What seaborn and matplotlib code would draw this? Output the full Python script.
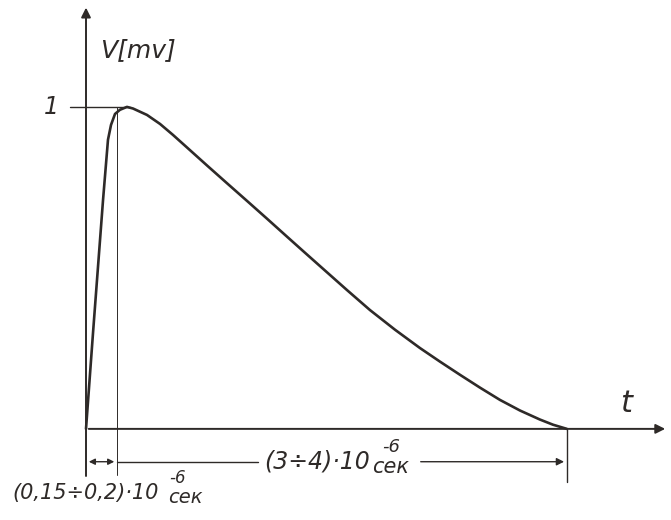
import pandas as pd
import matplotlib.pyplot as plt
import seaborn as sns

# pulse shape (t in microseconds, V in mV)
t_us = [0.0, 0.051, 0.124, 0.160, 0.182, 0.211, 0.247, 0.298, 0.342, 0.444,
        0.539, 0.633, 0.735, 0.881, 1.026, 1.172, 1.317, 1.463, 1.594, 1.739,
        1.900, 2.067, 2.249, 2.431, 2.576, 2.722, 2.868, 3.013, 3.159, 3.304,
        3.399, 3.5]
v_mv = [0.0, 0.298, 0.711, 0.898, 0.944, 0.978, 0.991, 1.0, 0.995, 0.975,
        0.947, 0.913, 0.874, 0.818, 0.763, 0.708, 0.653, 0.597, 0.547, 0.492,
        0.431, 0.369, 0.308, 0.251, 0.209, 0.168, 0.128, 0.090, 0.057, 0.029,
        0.013, 0.0]

t_rise = 0.226
t_end = 3.5
label_v = "V[mv]"
label_t = "t"
label_peak = "1"
dim_long = "(3÷4)·10"
dim_short = "(0,15÷0,2)·10"
exp_txt = "-6"
unit_txt = "сек"

df = pd.DataFrame({"t": t_us, "V": v_mv})

sns.set_style("white")
plt.rcParams['font.family'] = ['DejaVu Sans']
ink = "#2e2a28"

fig = plt.figure(figsize=(6.71, 5.2), dpi=100)
ax = fig.add_axes([0, 0, 1, 1])

sns.lineplot(data=df, x="t", y="V", sort=False, estimator=None, color=ink, lw=1.9, ax=ax)

# axes with arrows
ax.annotate("", xy=(0, 1.317), xytext=(0, -0.155),
            arrowprops=dict(arrowstyle="-|>", color=ink, lw=1.4, mutation_scale=14))
ax.annotate("", xy=(4.236, 0), xytext=(0, 0),
            arrowprops=dict(arrowstyle="-|>", color=ink, lw=1.4, mutation_scale=14))

# level 1 tick and helper lines
ax.plot([-0.116, 0.32], [1, 1], color=ink, lw=1.0)
ax.plot([t_rise, t_rise], [1, -0.143], color=ink, lw=0.7)
ax.plot([t_end, t_end], [0, -0.165], color=ink, lw=1.0)

# dimension lines
yd = -0.102
ax.annotate("", xy=(0, yd), xytext=(t_rise, yd),
            arrowprops=dict(arrowstyle="<|-|>", color=ink, lw=1.0, mutation_scale=9))
ax.plot([t_rise, 1.252], [yd, yd], color=ink, lw=1.0)
ax.annotate("", xy=(t_end, yd), xytext=(2.416, yd),
            arrowprops=dict(arrowstyle="-|>", color=ink, lw=1.0, mutation_scale=11))

# labels
ax.text(0.1, 1.177, label_v, fontsize=18, style="italic", color=ink, va="center", ha="left")
ax.text(-0.2, 1.0, label_peak, fontsize=17, style="italic", color=ink, va="center", ha="right")
ax.text(3.93, 0.08, label_t, fontsize=22, style="italic", color=ink, va="center", ha="center")

ax.text(1.30, yd, dim_long, fontsize=17, style="italic", color=ink, va="center", ha="left")
ax.text(2.22, -0.056, exp_txt, fontsize=13, style="italic", color=ink, va="center", ha="center")
ax.text(2.08, -0.118, unit_txt, fontsize=15, style="italic", color=ink, va="center", ha="left")

ax.text(-0.539, -0.199, dim_short, fontsize=15, style="italic", color=ink, va="center", ha="left")
ax.text(0.665, -0.152, exp_txt, fontsize=12, style="italic", color=ink, va="center", ha="center")
ax.text(0.6, -0.213, unit_txt, fontsize=14, style="italic", color=ink, va="center", ha="left")

ax.set_xlim(-0.626, 4.258)
ax.set_ylim(-0.283, 1.332)
ax.axis("off")

fig.savefig("out.png", dpi=100, facecolor="white")
